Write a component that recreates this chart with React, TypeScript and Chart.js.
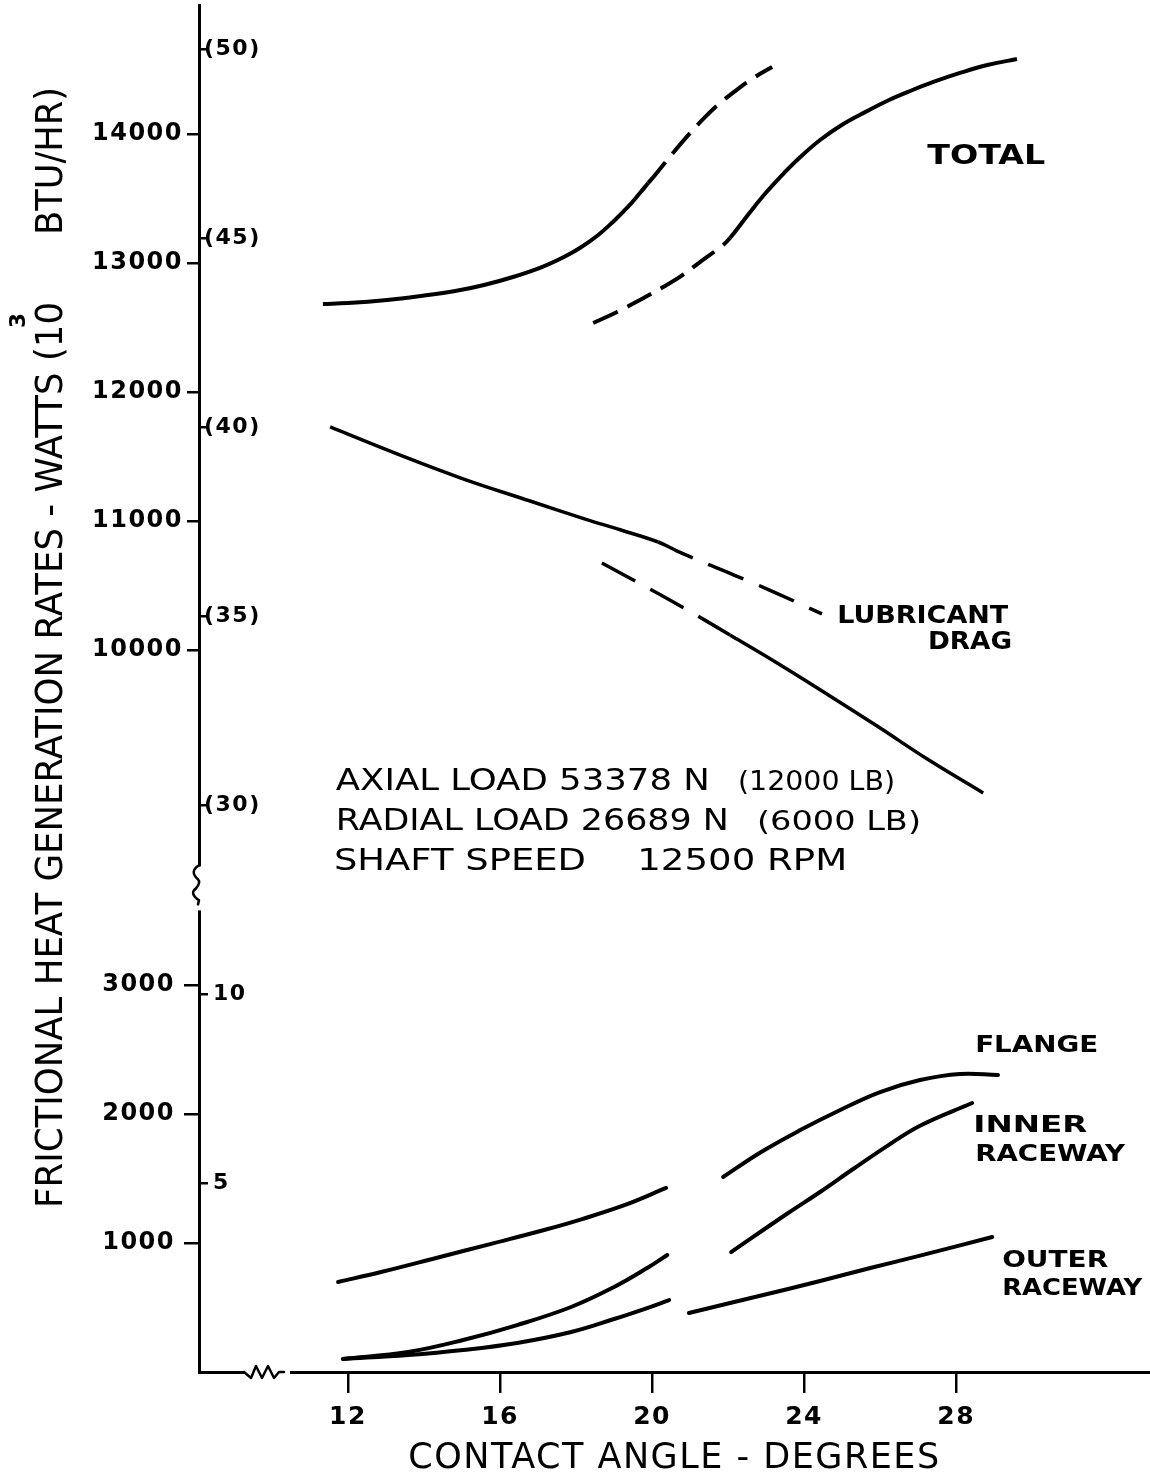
import React, { useEffect, useRef } from 'react';
import { Chart, registerables } from 'chart.js';

Chart.register(...registerables);

const FONT = "'DejaVu Sans', 'Liberation Sans', sans-serif";

// ---------- axes ----------
const X_MIN = 8.08;
const X_MAX = 33.1;
const X_TICKS = [12, 16, 20, 24, 28];
const WATT_UP_MIN = 8150;
const WATT_UP_MAX = 15000;
const WATT_LOW_MIN = 0;
const WATT_LOW_MAX = 3750;
const WATT_UP_TICKS = [10000, 11000, 12000, 13000, 14000];
const WATT_LOW_TICKS = [1000, 2000, 3000];
const BTU_UP_TICKS = [30, 35, 40, 45, 50];
const BTU_LOW_TICKS = [5, 10];
const KBTU_PER_WATT = 0.003412; // (10^3 BTU/HR) per watt

// ---------- series: [contact angle (deg), heat generation (W)] ----------
const totalCase1Solid = [
  [11.34, 12682], [12.0, 12689], [13.03, 12713], [13.92, 12744], [14.82, 12782],
  [15.58, 12829], [16.34, 12891], [17.1, 12968], [17.68, 13046], [18.1, 13116],
  [18.55, 13209], [18.97, 13318], [19.34, 13426], [19.68, 13542], [19.9, 13620],
];
const totalCase1Dashed = [
  [19.9, 13620], [20.08, 13682], [20.55, 13852], [21.0, 14007], [21.4, 14132],
  [21.79, 14240], [22.26, 14349], [22.71, 14442], [23.16, 14519],
];
const totalCase2Dashed = [
  [18.45, 12534], [19.08, 12620], [19.68, 12713], [20.34, 12821], [20.8, 12905],
  [21.26, 13007], [21.87, 13139], [22.05, 13193],
];
const totalCase2Solid = [
  [22.05, 13193], [22.5, 13364], [22.92, 13519], [23.37, 13666], [23.9, 13821],
  [24.42, 13953], [25.03, 14077], [25.66, 14178], [26.18, 14256], [26.79, 14333],
  [27.4, 14403], [28.1, 14473], [28.82, 14535], [29.6, 14581],
];
const lubCase1Solid = [
  [11.53, 11728], [13.16, 11534], [14.97, 11332], [16.79, 11154], [18.24, 11014],
  [19.18, 10929], [20.16, 10836],
];
const lubCase1Dashed = [
  [20.16, 10836], [20.66, 10766], [21.58, 10650], [22.97, 10479], [24.47, 10278],
];
const lubCase2Dashed = [
  [18.68, 10673], [19.6, 10526], [20.79, 10332], [22.05, 10115],
];
const lubCase2Solid = [
  [22.05, 10115], [23.29, 9898], [24.6, 9657], [25.92, 9409], [27.24, 9153], [28.71, 8890],
];
const flangeLow = [
  [11.74, 698], [12.87, 775], [14.32, 884], [15.74, 992], [17.16, 1101],
  [18.16, 1186], [19.29, 1295], [20.37, 1427],
];
const flangeHigh = [
  [21.87, 1512], [22.87, 1706], [23.9, 1876], [24.95, 2032], [26.0, 2171],
  [27.05, 2264], [28.1, 2311], [29.1, 2303],
];
const innerLow = [
  [11.87, 101], [13.58, 155], [15.03, 248], [16.45, 364], [17.87, 504],
  [19.0, 659], [19.87, 806], [20.4, 907],
];
const innerHigh = [
  [22.08, 930], [23.58, 1233], [24.42, 1396], [25.29, 1574], [26.18, 1752],
  [27.05, 1910], [28.42, 2086],
];
const outerLow = [
  [11.87, 101], [13.58, 132], [15.03, 171], [16.45, 225], [17.87, 310],
  [19.0, 411], [19.87, 496], [20.45, 558],
];
const outerHigh = [
  [20.97, 457], [22.16, 543], [23.58, 644], [24.42, 706], [25.74, 806],
  [27.05, 902], [28.95, 1047],
];

// ---------- annotation texts (anchored in data coordinates) ----------
const ANNOTATIONS = [
  { text: 'TOTAL', x: 27.24, y: 13767, axis: 'yUp', size: 26, bold: true, width: 118 },
  { text: 'LUBRICANT', x: 24.87, y: 10208, axis: 'yUp', size: 24, bold: true, width: 171 },
  { text: 'DRAG', x: 27.26, y: 10006, axis: 'yUp', size: 24, bold: true, width: 84 },
  { text: 'FLANGE', x: 28.5, y: 2481, axis: 'yLow', size: 23, bold: true, width: 123 },
  { text: 'INNER', x: 28.45, y: 1861, axis: 'yLow', size: 23, bold: true, width: 114 },
  { text: 'RACEWAY', x: 28.5, y: 1636, axis: 'yLow', size: 23, bold: true, width: 150 },
  { text: 'OUTER', x: 29.21, y: 814, axis: 'yLow', size: 23, bold: true, width: 106 },
  { text: 'RACEWAY', x: 29.21, y: 597, axis: 'yLow', size: 23, bold: true, width: 140 },
  { text: 'AXIAL LOAD 53378 N', x: 11.68, y: 8913, axis: 'yUp', size: 30, bold: false, width: 374 },
  { text: '(12000 LB)', x: 22.26, y: 8913, axis: 'yUp', size: 26, bold: false, width: 157 },
  { text: 'RADIAL LOAD 26689 N', x: 11.68, y: 8603, axis: 'yUp', size: 30, bold: false, width: 393 },
  { text: '(6000 LB)', x: 22.76, y: 8603, axis: 'yUp', size: 26, bold: false, width: 164 },
  { text: 'SHAFT SPEED', x: 11.63, y: 8293, axis: 'yUp', size: 30, bold: false, width: 252 },
  { text: '12500 RPM', x: 19.61, y: 8293, axis: 'yUp', size: 30, bold: false, width: 210 },
];

const Y_TITLE_PARTS = [
  { text: 'FRICTIONAL HEAT GENERATION RATES - WATTS (10', dx: -137, y: 1208, size: 37, bold: false, width: 906 },
  { text: '3', dx: -174, y: 328, size: 21, bold: true, width: 15 },
  { text: 'BTU/HR)', dx: -137, y: 235, size: 37, bold: false, width: 148 },
];

const pts = (arr: number[][]) => arr.map(([x, y]) => ({ x, y }));

function drawFitted(ctx: CanvasRenderingContext2D, text: string, x: number, y: number,
  width: number, size: number, bold: boolean, rotate: boolean) {
  ctx.save();
  ctx.font = `${bold ? 'bold ' : ''}${size}px ${FONT}`;
  (ctx as any).letterSpacing = '0px';
  ctx.fillStyle = '#000';
  ctx.textAlign = 'left';
  ctx.textBaseline = 'alphabetic';
  const nat = ctx.measureText(text).width;
  ctx.translate(x, y);
  if (rotate) ctx.rotate(-Math.PI / 2);
  if (nat > 0) ctx.scale(width / nat, 1);
  ctx.fillText(text, 0, 0);
  ctx.restore();
}

const decorPlugin = {
  id: 'decor',
  beforeDraw(chart: any) {
    (chart.ctx as any).letterSpacing = '1.5px';
  },
  afterDraw(chart: any) {
    const ctx: CanvasRenderingContext2D = chart.ctx;
    (ctx as any).letterSpacing = '0px';
    const xs = chart.scales.x;
    const yUp = chart.scales.yUp;
    const axX = yUp.right;
    const by = yUp.bottom;

    ctx.save();
    // vertical axis break
    ctx.fillStyle = '#fff';
    ctx.fillRect(axX - 6, by - 22, 12, 44);
    ctx.strokeStyle = '#000';
    ctx.lineWidth = 2.5;
    ctx.lineCap = 'round';
    ctx.lineJoin = 'round';
    ctx.beginPath();
    ctx.moveTo(axX, by - 23);
    ctx.quadraticCurveTo(axX - 10, by - 17, axX - 1, by - 9);
    ctx.quadraticCurveTo(axX + 2, by - 6, axX - 3, by);
    ctx.quadraticCurveTo(axX - 10, by + 5, axX, by + 12);
    ctx.lineTo(axX - 1, by + 16);
    ctx.stroke();

    // horizontal axis break
    const ay = xs.top;
    const x0 = xs.left + 47;
    ctx.fillStyle = '#fff';
    ctx.fillRect(x0 - 1, ay - 5, 45, 10);
    ctx.beginPath();
    ctx.moveTo(x0 - 2, ay);
    const zig = [[5, 6], [10, -6], [16, 6], [22, -6], [28, 6], [33, 0], [38, 0]];
    zig.forEach(([dx, dy]) => ctx.lineTo(x0 + dx, ay + dy));
    ctx.stroke();
    ctx.restore();

    // annotations
    ANNOTATIONS.forEach((a) => {
      const px = xs.getPixelForValue(a.x);
      const py = chart.scales[a.axis].getPixelForValue(a.y);
      drawFitted(ctx, a.text, px, py, a.width, a.size, a.bold, false);
    });

    // y axis title (rotated)
    Y_TITLE_PARTS.forEach((p) => {
      drawFitted(ctx, p.text, chart.chartArea.left + p.dx, p.y, p.width, p.size, p.bold, true);
    });
  },
};

const solid = (data: number[][], axis: string, width: number) => ({
  data: pts(data),
  yAxisID: axis,
  borderColor: '#000',
  borderWidth: width,
  borderCapStyle: 'round' as const,
  pointRadius: 0,
  fill: false,
  tension: 0.4,
});

// one continuous curve: solid part followed by dashed part (or dashed then solid)
const solidThenDashed = (s: number[][], d: number[][], axis: string, width: number, dash: number[]) => ({
  ...solid([...s, ...d.slice(1)], axis, width),
  borderCapStyle: 'butt' as const,
  segment: { borderDash: (c: any) => (c.p0DataIndex >= s.length - 1 ? dash : undefined) },
});
const dashedThenSolid = (d: number[][], s: number[][], axis: string, width: number, dash: number[]) => ({
  ...solid([...d, ...s.slice(1)], axis, width),
  borderCapStyle: 'butt' as const,
  segment: { borderDash: (c: any) => (c.p1DataIndex <= d.length - 1 ? dash : undefined) },
});

const zeroPad = (s: any) => {
  s.paddingTop = 0;
  s.paddingBottom = 0;
  s.paddingLeft = 0;
  s.paddingRight = 0;
};

export default function App() {
  const ref = useRef<HTMLCanvasElement>(null);

  useEffect(() => {
    const canvas = ref.current;
    if (!canvas) return;
    Chart.defaults.font.family = FONT;
    Chart.defaults.color = '#000';

    const TOTAL_DASH = [27, 11];
    const LUB_DASH = [38, 17];

    const tickGrid = (len: number) => ({
      drawOnChartArea: false,
      drawTicks: true,
      tickLength: len,
      color: '#000',
      tickColor: '#000',
      lineWidth: 2.5,
      tickWidth: 2.5,
    });

    const chart = new Chart(canvas, {
      type: 'line',
      data: {
        datasets: [
          solidThenDashed(totalCase1Solid, totalCase1Dashed, 'yUp', 4, TOTAL_DASH),
          dashedThenSolid(totalCase2Dashed, totalCase2Solid, 'yUp', 4, TOTAL_DASH),
          solidThenDashed(lubCase1Solid, lubCase1Dashed, 'yUp', 3.5, LUB_DASH),
          dashedThenSolid(lubCase2Dashed, lubCase2Solid, 'yUp', 3.5, LUB_DASH),
          solid(flangeLow, 'yLow', 4),
          solid(flangeHigh, 'yLow', 4),
          solid(innerLow, 'yLow', 4),
          solid(innerHigh, 'yLow', 4),
          solid(outerLow, 'yLow', 4),
          solid(outerHigh, 'yLow', 4),
        ] as any,
      },
      options: {
        animation: false,
        responsive: false,
        events: [],
        layout: { autoPadding: false, padding: { top: 5, left: 0, right: 0, bottom: 0 } },
        plugins: { legend: { display: false }, tooltip: { enabled: false }, title: { display: false } },
        scales: {
          x: {
            type: 'linear',
            position: 'bottom',
            min: X_MIN,
            max: X_MAX,
            afterBuildTicks: (s: any) => { s.ticks = X_TICKS.map((value) => ({ value })); },
            afterFit: (s: any) => { s.height = 112; zeroPad(s); },
            ticks: {
              autoSkip: false,
              maxRotation: 0,
              padding: 9,
              color: '#000',
              font: { size: 25, weight: 'bold' },
              callback: (v: any) => String(v),
            },
            grid: tickGrid(21),
            border: { display: true, color: '#000', width: 3 },
            title: {
              display: true,
              text: 'CONTACT ANGLE - DEGREES',
              color: '#000',
              font: { size: 35, weight: 'normal' },
              padding: { top: 0, bottom: 4 },
            },
          },
          yUp: {
            type: 'linear',
            position: 'left',
            stack: 'w',
            stackWeight: WATT_UP_MAX - WATT_UP_MIN,
            weight: 2,
            min: WATT_UP_MIN,
            max: WATT_UP_MAX,
            afterBuildTicks: (s: any) => { s.ticks = WATT_UP_TICKS.map((value) => ({ value })); },
            afterFit: (s: any) => { s.width = 199; zeroPad(s); },
            ticks: {
              autoSkip: false,
              padding: 4,
              color: '#000',
              font: { size: 24, weight: 'bold' },
              callback: (v: any) => String(v),
            },
            grid: tickGrid(12),
            border: { display: true, color: '#000', width: 3 },
          },
          yLow: {
            type: 'linear',
            position: 'left',
            stack: 'w',
            stackWeight: WATT_LOW_MAX - WATT_LOW_MIN,
            weight: 1.9,
            min: WATT_LOW_MIN,
            max: WATT_LOW_MAX,
            afterBuildTicks: (s: any) => { s.ticks = WATT_LOW_TICKS.map((value) => ({ value })); },
            afterFit: (s: any) => { s.width = 199; zeroPad(s); },
            ticks: {
              autoSkip: false,
              padding: 9,
              color: '#000',
              font: { size: 24, weight: 'bold' },
              callback: (v: any) => String(v),
            },
            grid: tickGrid(15),
            border: { display: true, color: '#000', width: 3 },
          },
          bUp: {
            type: 'linear',
            position: 'left',
            stack: 'b',
            stackWeight: WATT_UP_MAX - WATT_UP_MIN,
            weight: 0.1,
            min: WATT_UP_MIN * KBTU_PER_WATT,
            max: WATT_UP_MAX * KBTU_PER_WATT,
            afterBuildTicks: (s: any) => { s.ticks = BTU_UP_TICKS.map((value) => ({ value })); },
            afterFit: (s: any) => { s.width = 0; zeroPad(s); },
            ticks: {
              autoSkip: false,
              mirror: true,
              padding: 5,
              color: '#000',
              font: { size: 22, weight: 'bold' },
              callback: (v: any) => `(${v})`,
            },
            grid: tickGrid(-7),
            border: { display: false },
          },
          bLow: {
            type: 'linear',
            position: 'left',
            stack: 'b',
            stackWeight: WATT_LOW_MAX - WATT_LOW_MIN,
            weight: 0,
            min: WATT_LOW_MIN * KBTU_PER_WATT,
            max: WATT_LOW_MAX * KBTU_PER_WATT,
            afterBuildTicks: (s: any) => { s.ticks = BTU_LOW_TICKS.map((value) => ({ value })); },
            afterFit: (s: any) => { s.width = 0; zeroPad(s); },
            ticks: {
              autoSkip: false,
              mirror: true,
              padding: 14,
              color: '#000',
              font: { size: 22, weight: 'bold' },
              callback: (v: any) => String(v),
            },
            grid: tickGrid(-9),
            border: { display: false },
          },
        } as any,
      },
      plugins: [decorPlugin as any],
    });

    return () => chart.destroy();
  }, []);

  return (
    <div style={{ position: 'absolute', left: 0, top: 0, width: 1150, height: 1484, background: '#fff' }}>
      <canvas ref={ref} width={1150} height={1484} style={{ display: 'block', width: 1150, height: 1484 }} />
    </div>
  );
}
